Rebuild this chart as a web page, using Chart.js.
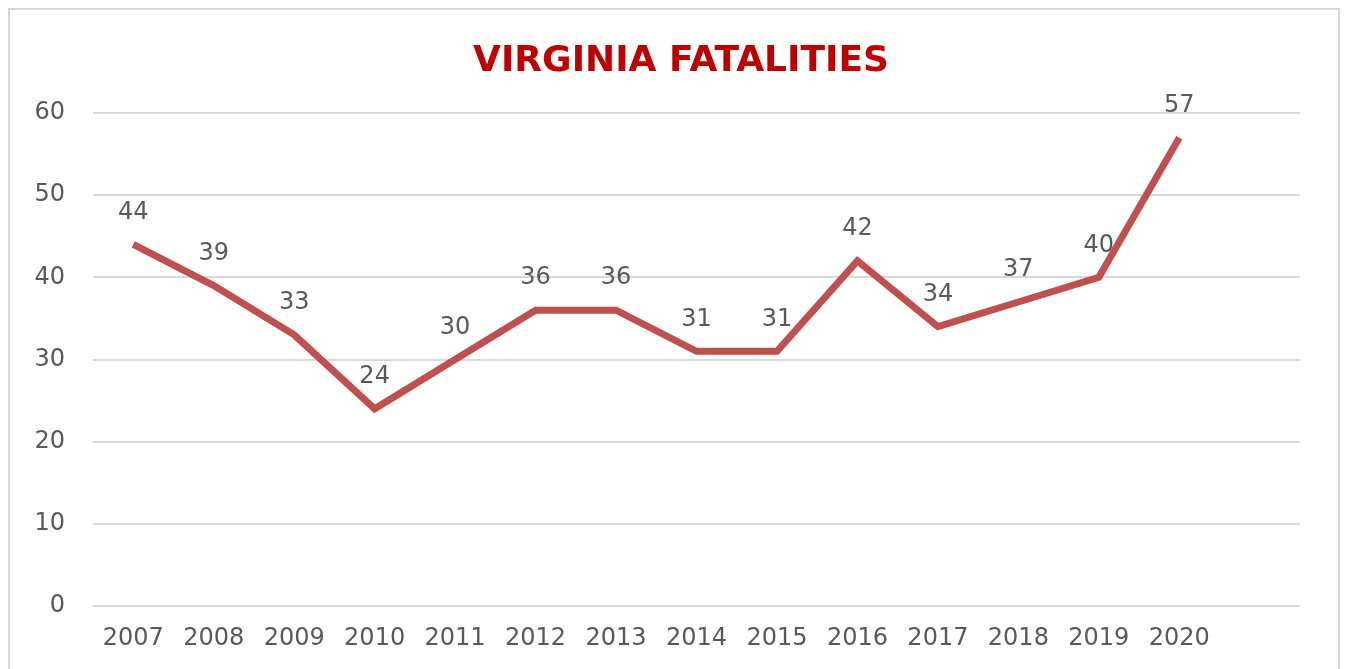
<!DOCTYPE html>
<html>
<head>
<meta charset="utf-8">
<script src="https://cdn.jsdelivr.net/npm/chart.js@4/dist/chart.umd.min.js"></script>
<style>
  body { margin: 0; background: #fff; }
  #frame { position: absolute; left: 8px; top: 8px; width: 1328px; height: 700px; border: 2px solid #d6d6d6; }
  #wrap { position: absolute; left: 0; top: 0; width: 1345px; height: 669px; }
</style>
</head>
<body>
<div id="frame"></div>
<div id="wrap"><canvas id="chart"></canvas></div>
<script>
var years = ['2007','2008','2009','2010','2011','2012','2013','2014','2015','2016','2017','2018','2019','2020'];
var fatalities = [44, 39, 33, 24, 30, 36, 36, 31, 31, 42, 34, 37, 40, 57];
var yTicks = [0, 10, 20, 30, 40, 50, 60];
var chartTitle = 'VIRGINIA FATALITIES';

// excel leaves an empty slot after the last year, so add a blank label
var labels = years.concat(['']);

// values above each point + the title (title sits off-centre in the original)
var valueLabels = {
  id: 'valueLabels',
  afterDatasetsDraw: function(chart) {
    var ctx = chart.ctx;
    var meta = chart.getDatasetMeta(0);
    ctx.save();
    ctx.font = '24px "DejaVu Sans"';
    ctx.fillStyle = '#595959';
    ctx.textAlign = 'center';
    ctx.textBaseline = 'middle';
    meta.data.forEach(function(pt, i) {
      ctx.fillText(fatalities[i], pt.x, pt.y - 32);
    });
    ctx.font = 'bold 36px "DejaVu Sans"';
    ctx.fillStyle = '#C00000';
    ctx.fillText(chartTitle, 681, 62);
    ctx.restore();
  }
};

var ctx = document.getElementById('chart').getContext('2d');
var myChart = new Chart(ctx, {
  type: 'line',
  data: {
    labels: labels,
    datasets: [{
      label: 'Fatalities',
      data: fatalities,
      borderColor: '#C0504D',
      borderWidth: 7,
      pointRadius: 0,
      tension: 0,
      fill: false
    }]
  },
  options: {
    responsive: true,
    maintainAspectRatio: false,
    animation: false,
    layout: { padding: { left: 0, right: 45, top: 113, bottom: 0 } },
    plugins: {
      legend: { display: false },
      tooltip: { enabled: false },
      title: { display: false }
    },
    scales: {
      x: {
        offset: true,
        grid: { display: false, drawTicks: false },
        border: { display: false },
        ticks: {
          color: '#595959',
          font: { family: '"DejaVu Sans"', size: 24 },
          padding: 18,
          maxRotation: 0,
          autoSkip: false
        },
        afterFit: function(scale) { scale.height = 63; }
      },
      y: {
        min: 0,
        max: 60,
        grid: { color: '#d9d9d9', lineWidth: 2, drawTicks: false },
        border: { display: false },
        afterBuildTicks: function(scale) {
          scale.ticks = yTicks.map(function(v) { return { value: v }; });
        },
        ticks: {
          color: '#595959',
          font: { family: '"DejaVu Sans"', size: 24 },
          padding: 28
        },
        afterFit: function(scale) { scale.width = 93; }
      }
    }
  },
  plugins: [valueLabels]
});
</script>
</body>
</html>
